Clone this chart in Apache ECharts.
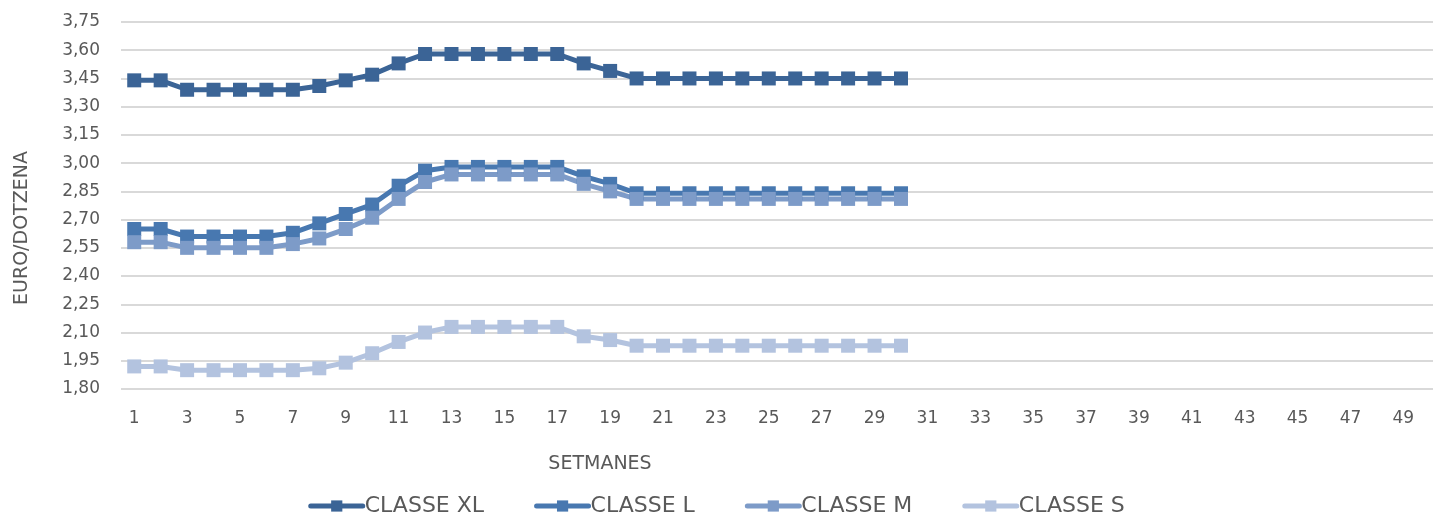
<!DOCTYPE html>
<html>
<head>
<meta charset="utf-8">
<script src="https://cdn.jsdelivr.net/npm/echarts@6/dist/echarts.min.js"></script>
<style>html,body{margin:0;padding:0;background:#fff;}#c{width:1433px;height:518px;}</style>
</head>
<body>
<div id="c"></div>
<script>
const weeks = Array.from({length: 50}, (_, i) => String(i + 1));
const classeXL = [3.44,3.44,3.39,3.39,3.39,3.39,3.39,3.41,3.44,3.47,3.53,3.58,3.58,3.58,3.58,3.58,3.58,3.53,3.49,3.45,3.45,3.45,3.45,3.45,3.45,3.45,3.45,3.45,3.45,3.45];
const classeL = [2.65,2.65,2.61,2.61,2.61,2.61,2.63,2.68,2.73,2.78,2.88,2.96,2.98,2.98,2.98,2.98,2.98,2.93,2.89,2.84,2.84,2.84,2.84,2.84,2.84,2.84,2.84,2.84,2.84,2.84];
const classeM = [2.58,2.58,2.55,2.55,2.55,2.55,2.57,2.60,2.65,2.71,2.81,2.90,2.94,2.94,2.94,2.94,2.94,2.89,2.85,2.81,2.81,2.81,2.81,2.81,2.81,2.81,2.81,2.81,2.81,2.81];
const classeS = [1.92,1.92,1.90,1.90,1.90,1.90,1.90,1.91,1.94,1.99,2.05,2.10,2.13,2.13,2.13,2.13,2.13,2.08,2.06,2.03,2.03,2.03,2.03,2.03,2.03,2.03,2.03,2.03,2.03,2.03];
const seriesNames = ['CLASSE XL','CLASSE L','CLASSE M','CLASSE S'];
const colors = ['#3B6496','#4878B0','#7D9BC8','#B3C3DF'];
const FONT = '"DejaVu Sans", sans-serif';
const TXT = '#595959';

const chart = echarts.init(document.getElementById('c'));
const mk = (name, data, color) => ({
  name, type: 'line', data, symbol: 'rect', symbolSize: 14,
  lineStyle: {width: 5, color}, itemStyle: {color},
  emphasis: {disabled: true}, animation: false
});
chart.setOption({
  animation: false,
  color: colors,
  grid: {left: 121, right: -10, top: 22, bottom: 129, containLabel: false, outerBoundsMode: 'none'},
  title: {
    text: 'SETMANES', left: 595, top: 450, textAlign: 'center',
    textStyle: {fontFamily: FONT, fontSize: 19, fontWeight: 'normal', color: TXT}
  },
  graphic: [{
    type: 'text', x: 22, y: 228, rotation: Math.PI / 2,
    style: {text: 'EURO/DOTZENA', fill: TXT, font: '19px "DejaVu Sans", sans-serif',
      align: 'center', verticalAlign: 'middle'}
  }],
  legend: {
    top: 495, left: 'center', padding: 0, itemWidth: 52, itemHeight: 14, itemGap: 50,
    lineStyle: {width: 5, cap: 'round'},
    textStyle: {fontFamily: FONT, fontSize: 22, color: TXT, padding: [0,0,0,-3]},
    data: seriesNames
  },
  xAxis: {
    type: 'category', data: weeks, boundaryGap: true,
    axisLine: {show: false}, axisTick: {show: false},
    axisLabel: {interval: 1, fontFamily: FONT, fontSize: 17, color: TXT, margin: 21}
  },
  yAxis: {
    type: 'value', min: 1.8, max: 3.75, interval: 0.15,
    axisLine: {show: false}, axisTick: {show: false},
    splitLine: {lineStyle: {color: '#D9D9D9', width: 2}},
    axisLabel: {fontFamily: FONT, fontSize: 17, color: TXT, margin: 21,
      formatter: v => v.toFixed(2).replace('.', ',')}
  },
  series: [
    mk(seriesNames[0], classeXL, colors[0]),
    mk(seriesNames[1], classeL, colors[1]),
    mk(seriesNames[2], classeM, colors[2]),
    mk(seriesNames[3], classeS, colors[3])
  ]
});
</script>
</body>
</html>
